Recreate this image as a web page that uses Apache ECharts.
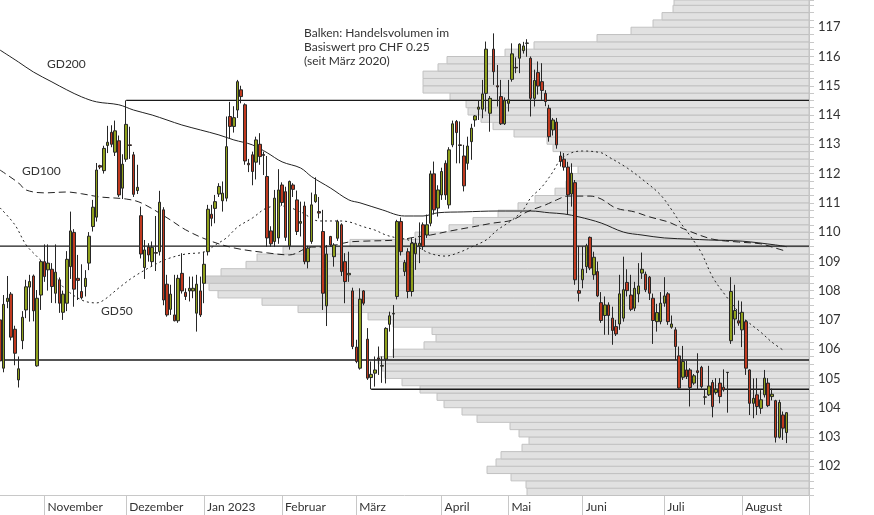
<!DOCTYPE html>
<html><head><meta charset="utf-8">
<script src="https://cdn.jsdelivr.net/npm/echarts@6/dist/echarts.min.js"></script>
<style>html,body{margin:0;padding:0;background:#fff}#c{width:874px;height:515px}</style>
</head><body><div id="c"></div>
<script>
// ---- categories (trading days per month) ----
const monthNames = ['', 'November', 'Dezember', 'Jan 2023', 'Februar', 'März', 'April', 'Mai', 'Juni', 'Juli', 'August', ''];
const monthDays  = [12, 22, 21, 21, 20, 23, 18, 20, 22, 21, 13, 6];

// ---- candles ----
const openP = [107.0,105.35,107.63,107.88,106.68,104.95,106.29,107.34,108.12,108.50,
105.43,107.85,108.99,108.71,108.73,107.91,108.37,107.26,107.57,108.82,
109.99,108.42,107.97,108.14,108.94,110.19,110.51,112.27,112.10,112.96,
113.41,112.73,113.12,111.50,112.49,112.98,112.64,111.42,110.56,108.79,
109.49,108.99,109.30,109.33,110.76,108.22,107.36,107.17,106.97,108.59,
107.94,107.99,107.99,107.23,107.99,108.25,109.33,110.61,110.81,111.30,
111.07,111.16,113.95,113.61,114.17,114.86,114.35,112.35,112.64,112.39,
113.00,112.65,111.90,110.04,109.68,109.80,111.61,111.38,109.53,111.61,
111.10,110.30,110.89,108.99,109.68,111.04,110.70,110.02,107.48,109.85,
109.16,109.79,110.25,108.99,108.54,107.99,106.07,105.35,107.99,106.34,
105.03,105.18,105.70,105.42,105.66,106.85,107.20,107.80,110.36,108.65,
109.33,107.97,109.26,109.53,110.25,109.90,110.30,111.99,110.82,111.27,
112.35,110.93,112.98,113.78,112.98,112.60,112.35,113.09,113.83,114.20,
114.20,114.74,114.06,116.25,115.00,114.63,113.70,114.40,115.22,115.63,
115.94,116.20,116.45,115.94,114.57,115.45,115.14,114.74,114.23,113.49,
113.76,112.60,112.49,112.22,111.30,111.69,108.00,108.37,108.82,109.82,
108.54,108.65,107.59,107.15,107.51,107.06,106.77,106.86,107.06,108.28,
107.85,107.40,107.89,108.60,108.56,108.46,107.74,106.94,106.94,107.57,
107.89,106.75,106.66,105.77,105.04,105.29,105.29,104.84,105.26,105.38,
104.36,104.44,104.86,104.52,104.84,104.70,105.20,106.29,107.03,106.97,
106.66,106.94,105.29,104.15,104.44,103.98,104.44,104.84,104.38,104.24,
102.99,103.75,103.15];
const closeP = [105.6,107.53,107.74,106.41,105.86,105.33,107.09,108.13,108.31,107.31,
107.74,108.99,108.48,108.94,108.14,108.63,107.57,107.88,109.07,110.04,
108.05,108.35,107.76,108.42,109.86,110.85,112.12,112.22,112.86,113.07,
113.00,113.46,111.27,112.32,113.68,112.96,111.29,111.53,109.25,109.39,
109.22,109.48,109.28,111.02,107.68,107.17,107.88,106.97,108.42,107.99,
107.80,108.08,108.08,108.22,107.17,108.90,110.78,110.47,111.04,111.56,
111.33,112.92,113.61,113.91,115.14,114.63,112.43,112.30,112.07,113.15,
112.58,112.62,109.80,109.60,111.16,111.44,111.01,109.82,111.73,111.46,
110.02,110.36,108.99,109.45,110.93,111.28,110.65,107.91,109.25,109.56,
109.56,110.36,108.65,108.31,108.59,106.09,105.58,107.71,107.57,105.01,
105.14,105.29,105.66,105.44,106.71,107.14,107.22,110.36,109.33,108.96,
107.97,109.62,109.62,109.62,109.51,110.25,111.99,110.76,111.44,112.07,
111.27,112.81,113.70,113.40,112.96,111.58,112.94,113.55,113.97,114.27,
114.72,116.25,114.57,115.48,114.96,113.70,114.49,114.52,116.09,115.61,
116.42,116.36,116.46,114.57,115.18,114.99,114.84,114.46,113.26,113.83,
112.98,112.41,112.22,111.27,112.01,108.37,107.91,108.73,109.53,108.77,
109.14,107.82,106.98,107.51,107.15,106.64,106.52,107.89,108.03,108.00,
107.36,108.08,108.16,108.73,108.03,107.91,106.98,107.25,107.57,107.82,
106.94,106.86,106.09,104.67,105.58,105.06,104.69,105.09,105.20,104.72,
104.37,104.74,104.04,104.63,104.38,104.61,105.21,107.97,107.32,106.89,
107.26,105.35,104.15,104.32,104.04,104.27,105.01,104.07,104.46,102.99,
104.18,103.30,103.83];
const lowP = [105.3,105.21,107.40,106.30,105.45,104.69,106.00,107.06,106.94,106.95,
105.40,107.34,108.30,108.00,107.58,107.57,107.24,107.00,107.30,108.40,
107.45,107.68,107.70,107.80,108.70,110.02,110.36,112.15,112.00,112.70,
112.90,112.60,111.20,111.13,112.40,112.50,111.20,111.30,109.10,108.40,
108.99,108.82,108.67,109.20,107.50,107.11,107.17,106.95,106.90,107.90,
107.68,107.63,107.74,106.60,107.10,107.57,109.20,110.20,110.30,111.20,
110.70,111.05,113.20,113.40,113.90,114.40,112.30,112.05,111.60,111.80,
112.30,111.95,109.50,109.50,109.50,109.60,110.90,109.70,109.40,111.20,
109.90,109.85,108.90,108.76,109.60,111.00,110.47,107.34,106.79,109.50,
108.82,109.70,108.50,107.57,108.30,106.00,105.52,105.30,107.50,104.95,
104.63,104.72,105.12,104.85,104.83,106.60,105.70,107.70,109.20,108.50,
107.74,107.80,108.71,108.94,109.39,109.80,110.20,110.60,110.53,111.10,
111.10,110.80,112.90,112.35,112.35,111.39,112.13,112.47,113.60,113.83,
113.89,114.12,113.43,115.03,114.29,113.66,113.66,114.12,115.14,115.43,
115.43,116.10,115.99,113.95,114.29,114.70,114.52,114.30,113.09,113.30,
112.85,112.24,112.10,110.59,110.87,108.20,107.63,108.08,108.60,108.70,
108.37,107.78,106.90,106.49,106.49,106.15,106.45,106.66,106.94,107.80,
107.30,107.30,107.60,108.40,107.95,107.68,106.18,106.60,106.85,107.45,
106.83,106.70,105.63,104.65,104.95,104.98,104.04,104.78,104.61,104.66,
104.10,104.40,103.67,104.45,104.15,104.55,103.83,106.18,106.49,106.80,
106.07,105.12,103.75,103.64,103.75,103.79,104.35,104.02,104.25,102.81,
102.95,102.90,102.79];
const highP = [107.3,107.85,108.50,107.95,106.80,105.75,107.30,108.37,108.54,108.55,
108.02,109.05,109.58,109.58,108.94,109.58,108.45,108.00,109.35,110.70,
110.10,109.22,108.90,108.70,110.00,111.10,112.36,112.30,112.95,113.63,
113.65,113.81,113.30,112.66,114.50,113.60,112.74,112.30,110.87,109.73,
109.62,109.68,110.55,111.41,110.85,108.54,108.20,108.54,108.54,109.28,
108.08,108.48,108.48,108.54,108.48,109.33,110.93,110.93,111.27,111.67,
111.73,113.95,114.45,114.30,115.20,115.00,114.40,112.50,112.75,113.26,
113.38,112.75,112.60,110.20,111.44,112.15,111.70,111.55,111.76,111.67,
111.42,111.04,111.04,109.53,111.35,111.87,111.20,110.76,109.56,109.87,
109.62,110.42,110.30,109.28,109.33,108.10,106.32,108.08,108.02,106.72,
105.58,105.75,106.09,105.75,106.75,107.28,107.51,110.42,110.50,109.05,
109.45,109.80,109.79,110.33,110.33,110.60,112.10,112.41,111.60,112.20,
112.45,112.90,113.81,113.83,113.78,112.98,113.26,113.70,114.00,114.50,
115.20,116.51,114.65,116.79,115.71,115.20,114.60,115.20,116.45,115.97,
116.45,116.50,116.59,116.00,115.55,115.83,115.77,114.85,114.35,113.90,
113.90,112.75,112.70,112.40,112.35,111.78,109.53,109.51,109.60,109.85,
109.33,108.99,107.95,107.80,107.60,107.45,107.00,108.54,109.16,108.73,
108.54,108.30,108.94,109.30,108.65,108.50,107.90,107.55,107.95,108.46,
107.95,107.15,106.75,106.09,106.11,105.60,105.35,105.15,105.86,105.43,
104.61,105.43,104.95,105.01,105.01,105.31,105.22,108.46,108.20,107.66,
107.63,107.00,105.31,105.00,105.01,104.60,105.29,105.01,104.65,104.27,
104.27,103.87,103.85];

// ---- moving averages (day index, value) ----
const gd200Days = [0,5,9,14,18,22,26,32,36,41,45,49,54,59,63,68,72,76,81,84,89,94,97,103,109,114,118,125,134,143,148,152,156,162,168,173,179,186,191,200,209,212];
const gd200Vals = [116.22,115.81,115.47,115.13,114.86,114.62,114.45,114.35,114.17,114.0,113.83,113.66,113.49,113.32,113.15,112.98,112.71,112.40,112.19,111.89,111.51,111.10,111.00,110.76,110.55,110.55,110.66,110.69,110.72,110.72,110.66,110.62,110.52,110.31,110.0,109.90,109.80,109.76,109.73,109.69,109.56,109.50];
const gd100Days = [0,5,7,12,18,22,27,34,38,45,50,56,63,72,78,84,87,94,98,107,112,116,121,127,133,138,142,147,150,153,159,162,166,171,175,180,182,185,192,199,205,208,212];
const gd100Vals = [112.12,111.68,111.44,111.34,111.37,111.31,111.20,111.13,111.0,110.49,110.08,109.73,109.46,109.29,109.22,109.49,109.49,109.66,109.69,109.73,109.83,109.90,110.03,110.17,110.31,110.41,110.69,110.93,111.10,111.23,111.23,111.13,110.82,110.69,110.52,110.35,110.24,110.07,109.76,109.66,109.60,109.49,109.34];
const gd50Days = [0,4,7,10,14,17,22,26,28,32,36,41,45,50,55,58,61,64,68,72,76,81,86,91,94,98,101,104,107,110,115,120,124,127,131,134,138,141,143,146,149,151,154,157,162,164,169,174,178,181,183,186,189,192,195,199,201,205,208,211];
const gd50Vals = [110.83,110.25,109.57,109.16,108.64,108.13,107.68,107.58,107.68,108.09,108.47,108.84,109.08,109.25,109.32,109.56,109.80,110.17,110.48,110.83,110.89,110.69,110.38,110.38,110.35,110.18,110.07,109.90,109.80,109.73,109.32,109.18,109.32,109.49,109.73,110.07,110.41,110.76,111.17,111.54,112.06,112.47,112.71,112.77,112.71,112.57,112.19,111.71,111.27,110.76,110.38,109.87,109.29,108.47,107.92,107.27,106.99,106.58,106.24,105.97];

// ---- horizontal levels ----
const levelValues = [114.5, 109.52, 105.63, 104.63];
const levelStart  = [34, 0, 0, 100];

// ---- volume profile (bins of CHF 0.25) ----
const binSize = 0.25;
const profileLevels = [101.00,101.25,101.50,101.75,102.00,102.25,102.50,102.75,103.00,103.25,
103.50,103.75,104.00,104.25,104.50,104.75,105.00,105.25,105.50,105.75,
106.00,106.25,106.50,106.75,107.00,107.25,107.50,107.75,108.00,108.25,
108.50,108.75,109.00,109.25,109.50,109.75,110.00,110.25,110.50,110.75,
111.00,111.25,111.50,111.75,112.00,112.25,112.50,112.75,113.00,113.25,
113.50,113.75,114.00,114.25,114.50,114.75,115.00,115.25,115.50,115.75,
116.00,116.25,116.50,116.75,117.00,117.25,117.50,117.75];
const profileVolume = [282,283,298,322,313,308,287,280,290,299,
332,347,365,372,389,407,424,427,431,416,
385,373,377,416,441,511,547,591,600,604,
588,563,552,526,459,394,360,336,311,291,
274,254,243,242,231,242,247,256,262,295,
316,328,341,343,359,386,386,386,371,362,
304,275,212,178,156,147,136,135];
const highlightLevel = 108.25;

// ---- build ----
const categories = [], labelAt = new Map(), tickAt = new Set();
monthDays.forEach((n, m) => {
  for (let d = 0; d < n; d++) {
    const idx = categories.length;
    if (d === 0 && monthNames[m]) { labelAt.set(idx, monthNames[m]); tickAt.add(idx); }
    categories.push(m + '-' + d);
  }
});
tickAt.add(categories.length - 1);

const candleData = categories.map((c, i) => i < openP.length ? [openP[i], closeP[i], lowP[i], highP[i]] : '-');
const pairs = (ds, vs) => ds.map((d, i) => [d, vs[i]]);
const lastIdx = categories.length - 1;
const FONT = "Lato, 'Open Sans', sans-serif";

const chart = echarts.init(document.getElementById('c'), null, {renderer: 'canvas'});
const levelSeries = levelValues.map((v, i) => ({
  type: 'line', xAxisIndex: 0, yAxisIndex: 0, data: [[levelStart[i], v], [lastIdx, v]],
  symbol: 'none', silent: true, z: 3,
  lineStyle: {color: '#1a1a1a', width: 1.3}
}));
const maLine = (ds, vs, type) => ({
  type: 'line', xAxisIndex: 0, yAxisIndex: 0, data: pairs(ds, vs), smooth: 0.35,
  symbol: 'none', silent: true, z: 4,
  lineStyle: {color: '#222', width: 1, type: type}
});

chart.setOption({
  animation: false,
  grid: [
    {left: 0, top: 0, width: 809, height: 495.5},
    {left: 0, top: 0, width: 809, height: 495.5}
  ],
  xAxis: [
    {type: 'category', gridIndex: 0, data: categories, boundaryGap: false,
     axisLine: {show: true, lineStyle: {color: '#c8c8c8'}},
     axisTick: {show: true, length: 20, interval: (i) => tickAt.has(i), lineStyle: {color: '#c8c8c8'}},
     axisLabel: {show: true, interval: (i) => labelAt.has(i), formatter: (v, i) => labelAt.get(i) || '',
       align: 'left', padding: [0, 0, 0, 3], margin: 6, color: '#333', fontSize: 12, fontFamily: FONT},
     splitLine: {show: false}},
    {type: 'value', gridIndex: 1, inverse: true, min: 0, max: 809, show: false}
  ],
  yAxis: [
    {type: 'value', gridIndex: 0, position: 'right', min: 101, max: 117.93, interval: 1,
     axisLine: {show: true, lineStyle: {color: '#c8c8c8'}},
     axisTick: {show: true, length: 5, lineStyle: {color: '#c8c8c8'}},
     minorTick: {show: true, splitNumber: 4, length: 5, lineStyle: {color: '#c8c8c8'}},
     axisLabel: {margin: 9, color: '#333', fontSize: 13, fontFamily: FONT,
       formatter: (v) => (Math.abs(v - Math.round(v)) < 1e-6 && v > 101.5) ? String(Math.round(v)) : ''},
     splitLine: {show: false}},
    {type: 'value', gridIndex: 1, min: 101, max: 117.93, show: false}
  ],
  series: [
    {type: 'custom', xAxisIndex: 1, yAxisIndex: 1, z: 1, silent: true,
     data: profileLevels.map((p, i) => [profileVolume[i], p]),
     renderItem: function (params, api) {
       const lo = api.value(1), vol = api.value(0);
       const a = api.coord([0, lo]);
       const b = api.coord([vol, lo + binSize]);
       const cs = params.coordSys;
       const shape = echarts.graphic.clipRectByRect(
         {x: b[0], y: b[1], width: a[0] - b[0], height: a[1] - b[1]},
         {x: cs.x, y: cs.y, width: cs.width, height: cs.height});
       if (!shape) return;
       return {type: 'rect', shape: shape,
         style: {fill: Math.abs(lo - highlightLevel) < 1e-6 ? '#d3d3d3' : '#e1e1e1', stroke: '#c2c2c2', lineWidth: 1}};
     }},
    ...levelSeries,
    maLine(gd200Days, gd200Vals, 'solid'),
    maLine(gd100Days, gd100Vals, [7, 4]),
    maLine(gd50Days, gd50Vals, [2, 3]),
    {type: 'candlestick', xAxisIndex: 0, yAxisIndex: 0, data: candleData, barWidth: 3, z: 5, silent: true,
     itemStyle: {color: '#8fa01c', color0: '#c0391f', borderColor: '#262626', borderColor0: '#262626', borderWidth: 1}}
  ],
  graphic: [
    {type: 'text', left: 47, top: 58, style: {text: 'GD200', fill: '#333', font: '12px ' + FONT}},
    {type: 'text', left: 22, top: 165, style: {text: 'GD100', fill: '#333', font: '12px ' + FONT}},
    {type: 'text', left: 101, top: 305, style: {text: 'GD50', fill: '#333', font: '12px ' + FONT}},
    {type: 'text', left: 304, top: 26, style: {text: 'Balken: Handelsvolumen im\nBasiswert pro CHF 0.25\n(seit März 2020)', fill: '#333', font: '12px ' + FONT, lineHeight: 14}}
  ]
});
</script>
</body></html>
